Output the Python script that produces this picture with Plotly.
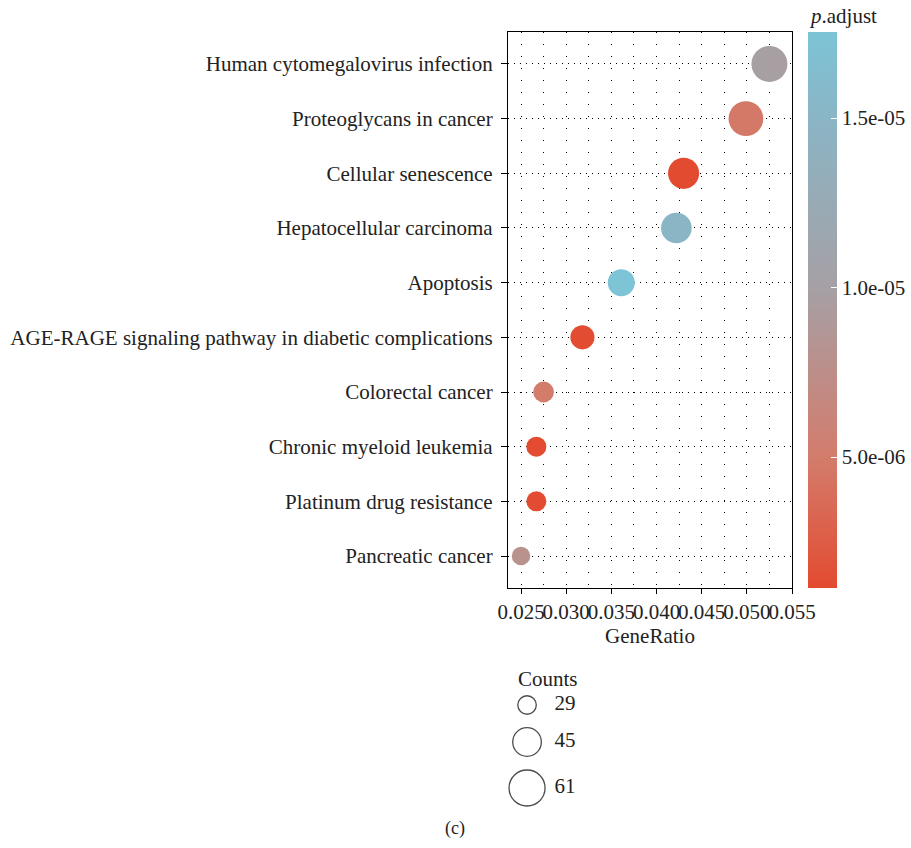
import plotly.graph_objects as go
import math

# ---------------- data ----------------
pathways = [
    "Human cytomegalovirus infection",
    "Proteoglycans in cancer",
    "Cellular senescence",
    "Hepatocellular carcinoma",
    "Apoptosis",
    "AGE-RAGE signaling pathway in diabetic complications",
    "Colorectal cancer",
    "Chronic myeloid leukemia",
    "Platinum drug resistance",
    "Pancreatic cancer",
]
gene_ratio = [0.0525, 0.0499, 0.0430, 0.0422, 0.0361, 0.0318, 0.0275, 0.0267, 0.0267, 0.0250]
counts = [61, 58, 50, 49, 42, 37, 32, 31, 31, 29]
p_adjust = [9.8e-06, 4.75e-06, 1.14e-06, 1.5e-05, 1.754e-05, 1.3e-06, 5.0e-06, 1.2e-06, 1.25e-06, 7.85e-06]

legend_counts = [29, 45, 61]
cbar_ticks = [5.0e-06, 1.0e-05, 1.5e-05]
cbar_ticktext = ["5.0e-06", "1.0e-05", "1.5e-05"]
x_ticks = [0.025, 0.030, 0.035, 0.040, 0.045, 0.050, 0.055]

# ---------------- styling ----------------
W, H = 911, 848
FONT = "Liberation Serif"
FS = 21
TXT = "#222"

colorscale = [
    [0.0, "rgb(227,75,48)"],
    [0.235, "rgb(211,124,108)"],
    [0.54, "rgb(166,160,165)"],
    [0.845, "rgb(138,181,197)"],
    [1.0, "rgb(124,196,214)"],
]

DMIN, DMAX = 18.5, 36.0
cmin_, cmax_ = min(counts), max(counts)


def diam(c):
    return math.sqrt(DMIN ** 2 + (c - cmin_) / (cmax_ - cmin_) * (DMAX ** 2 - DMIN ** 2))


def px_x(p):
    return p / W


def px_y(p):
    return 1 - p / H


fig = go.Figure()

fig.add_trace(go.Scatter(
    x=gene_ratio, y=pathways, mode="markers",
    marker=dict(
        size=[diam(c) for c in counts],
        color=p_adjust, colorscale=colorscale,
        line=dict(width=0), opacity=1,
        colorbar=dict(
            x=px_x(808), xanchor="left", xref="paper",
            y=px_y(32), yanchor="top", yref="paper",
            len=(588 - 32) / H, lenmode="fraction",
            thickness=29, thicknessmode="pixels",
            outlinewidth=0,
            tickvals=cbar_ticks, ticktext=cbar_ticktext,
            ticks="inside", ticklen=6, tickcolor="white", tickwidth=1,
            tickfont=dict(family=FONT, size=FS, color=TXT),
            xpad=0, ypad=0,
        ),
    ),
    showlegend=False, hoverinfo="skip",
))

# size legend
legend_y = [705, 742, 788]
fig.add_trace(go.Scatter(
    x=[0.294] * len(legend_counts), y=legend_y, mode="markers",
    marker=dict(size=[diam(c) for c in legend_counts], color="white",
                line=dict(color="black", width=1.3)),
    xaxis="x2", yaxis="y2", showlegend=False, hoverinfo="skip",
))
fig.add_trace(go.Scatter(
    x=[0.465] * len(legend_counts), y=legend_y, mode="text",
    text=[str(c) for c in legend_counts], textposition="middle right",
    textfont=dict(family=FONT, size=FS, color=TXT),
    xaxis="x2", yaxis="y2", showlegend=False, hoverinfo="skip",
))

fig.update_layout(
    width=W, height=H,
    margin=dict(l=0, r=0, t=0, b=0, autoexpand=False),
    paper_bgcolor="white", plot_bgcolor="white",
    font=dict(family=FONT, size=FS, color=TXT),
    xaxis=dict(
        domain=[px_x(508), px_x(792)],
        range=[0.02356, 0.055],
        tickvals=x_ticks, tickformat=".3f", tickangle=0,
        ticks="outside", ticklen=5, tickcolor="black", tickwidth=1,
        tickfont=dict(family=FONT, size=FS, color=TXT),
        showgrid=True, griddash="1px,11px", gridcolor="black", gridwidth=1,
        minor=dict(dtick=0.0025, tick0=0.025, showgrid=True, griddash="1px,11px",
                   gridcolor="black", gridwidth=1, ticks=""),
        showline=True, linecolor="black", linewidth=1.2, mirror=True,
        zeroline=False,
        title=dict(text="GeneRatio", font=dict(family=FONT, size=FS, color=TXT), standoff=4),
    ),
    yaxis=dict(
        domain=[px_y(588), px_y(32)],
        type="category", categoryorder="array", categoryarray=pathways,
        range=[len(pathways) - 1 + 0.585, -0.585],
        ticks="outside", ticklen=6, tickcolor="black", tickwidth=1,
        tickfont=dict(family=FONT, size=FS, color=TXT),
        showgrid=True, griddash="1px,5px", gridcolor="black", gridwidth=1,
        showline=True, linecolor="black", linewidth=1.2, mirror=True,
        zeroline=False, ticklabelstandoff=4,
    ),
    xaxis2=dict(domain=[px_x(480), px_x(640)], range=[0, 1], visible=False, fixedrange=True),
    yaxis2=dict(domain=[px_y(810), px_y(660)], range=[810, 660], visible=False, fixedrange=True),
    annotations=[
        dict(text="<i>p</i>.adjust", x=px_x(807), y=px_y(16), xref="paper", yref="paper",
             xanchor="left", yanchor="middle", showarrow=False,
             font=dict(family=FONT, size=FS, color=TXT)),
        dict(text="Counts", x=px_x(548), y=px_y(679), xref="paper", yref="paper",
             xanchor="center", yanchor="middle", showarrow=False,
             font=dict(family=FONT, size=FS, color=TXT)),
        dict(text="(c)", x=px_x(455), y=px_y(828), xref="paper", yref="paper",
             xanchor="center", yanchor="middle", showarrow=False,
             font=dict(family=FONT, size=18, color=TXT)),
    ],
)

fig.write_html("out.html")
